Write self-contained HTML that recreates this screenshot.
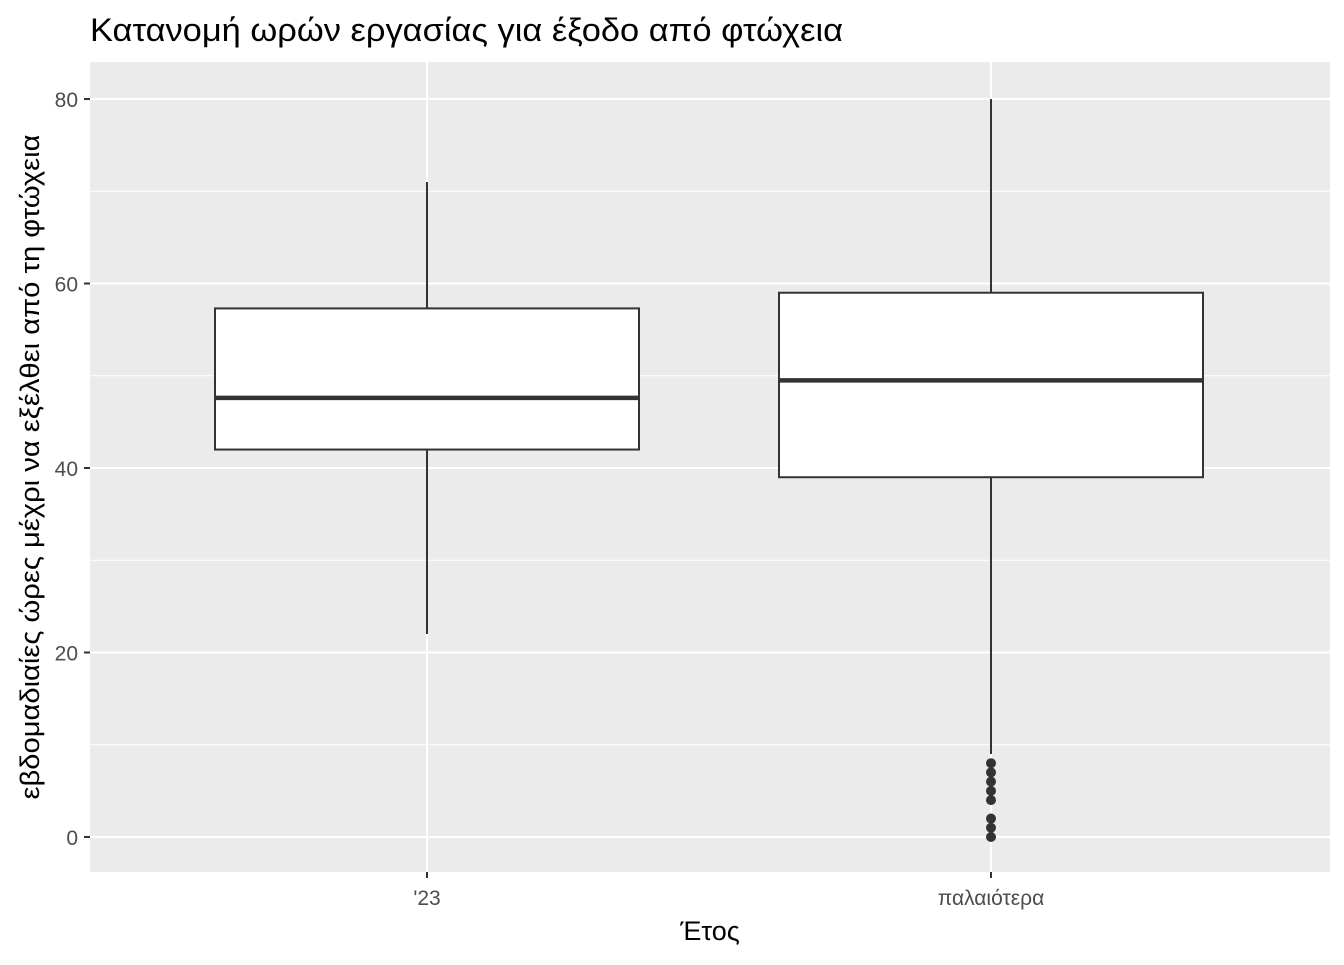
<!DOCTYPE html>
<html><head><meta charset="utf-8"><style>
body{margin:0;background:#fff;font-family:"Liberation Sans",sans-serif}
</style></head><body>
<svg id="chart" width="1344" height="960" xmlns="http://www.w3.org/2000/svg" font-family="Liberation Sans, sans-serif">
<rect width="1344" height="960" fill="#fff"/>
<text x="90" y="41" font-size="32" textLength="753" lengthAdjust="spacingAndGlyphs" fill="#000">Κατανομή ωρών εργασίας για έξοδο από φτώχεια</text>
<rect x="90" y="62" width="1240" height="810" fill="#ebebeb"/>
<g id="grid"></g>
<g id="marks"></g>
<g id="axes"></g>
<text x="710" y="940" font-size="27" text-anchor="middle" fill="#000">Έτος</text>
<text transform="translate(39,467) rotate(-90)" font-size="27" text-anchor="middle" textLength="665" lengthAdjust="spacingAndGlyphs" fill="#000">εβδομαδιαίες ώρες μέχρι να εξέλθει από τη φτώχεια</text>
</svg>
<script>
const categories=["'23","παλαιότερα"];
const lowerWhisker=[22,9];
const q1=[42,39];
const medians=[47.6,49.5];
const q3=[57.3,59];
const upperWhisker=[71,80];
const outliers=[[],[8,7,6,5,4,2,1,0]];
const yTicks=[0,20,40,60,80];
const NS="http://www.w3.org/2000/svg";
const y=v=>837-v*9.225;
const x=i=>427+i*564;
const boxHalf=212;
function mk(tag,attrs,parent){const e=document.createElementNS(NS,tag);for(const k in attrs)e.setAttribute(k,attrs[k]);document.getElementById(parent).appendChild(e);return e;}
for(let v=10;v<=90;v+=20){if(y(v)>62){const l=mk('line',{x1:90,x2:1330,y1:y(v),y2:y(v),stroke:'#fff','stroke-width':1},'grid');}}
yTicks.forEach(v=>{const l=mk('line',{x1:90,x2:1330,y1:y(v),y2:y(v),stroke:'#fff','stroke-width':2},'grid');
const t=mk('line',{x1:84,x2:90,y1:y(v),y2:y(v),stroke:'#333','stroke-width':2},'axes');
const tx=mk('text',{x:78,y:y(v)+8,'font-size':21,'text-anchor':'end',fill:'#4d4d4d'},'axes');tx.textContent=v;});
categories.forEach((c,i)=>{const l=mk('line',{x1:x(i),x2:x(i),y1:62,y2:872,stroke:'#fff','stroke-width':2},'grid');
const t=mk('line',{x1:x(i),x2:x(i),y1:872,y2:878,stroke:'#333','stroke-width':2},'axes');
const tx=mk('text',{x:x(i),y:905,'font-size':21,'text-anchor':'middle',fill:'#4d4d4d'},'axes');tx.textContent=c;
const w1=mk('line',{x1:x(i),x2:x(i),y1:y(upperWhisker[i]),y2:y(q3[i]),stroke:'#333','stroke-width':2},'marks');
const w2=mk('line',{x1:x(i),x2:x(i),y1:y(q1[i]),y2:y(lowerWhisker[i]),stroke:'#333','stroke-width':2},'marks');
const b=mk('rect',{x:x(i)-boxHalf,y:y(q3[i]),width:boxHalf*2,height:y(q1[i])-y(q3[i]),fill:'#fff',stroke:'#333','stroke-width':2},'marks');
const m=mk('line',{x1:x(i)-boxHalf,x2:x(i)+boxHalf,y1:y(medians[i]),y2:y(medians[i]),stroke:'#333','stroke-width':4.5},'marks');
outliers[i].forEach(o=>{const p=mk('circle',{cx:x(i),cy:y(o),r:5,fill:'#333'},'marks');});});
</script>
</body></html>
